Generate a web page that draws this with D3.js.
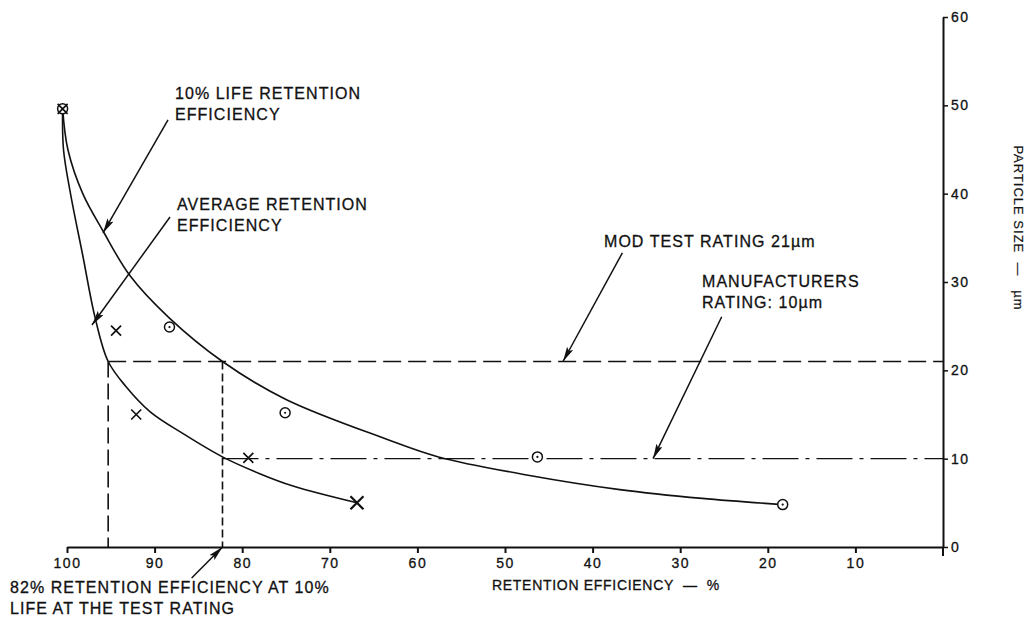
<!DOCTYPE html>
<html><head><meta charset="utf-8">
<script src="https://cdn.jsdelivr.net/npm/d3@7"></script>
<style>
html,body{margin:0;padding:0;background:#fff;}
svg{display:block;}
text{font-family:"Liberation Sans",Arial,sans-serif;fill:#111;}
</style></head><body>
<svg id="chart" width="1028" height="620"></svg>
<script>
// ---------- data ----------
const xTicks = [100, 90, 80, 70, 60, 50, 40, 30, 20, 10];
const yTicks = [0, 10, 20, 30, 40, 50, 60];
// 10% life retention efficiency (circles)
const lifeX = [100.5, 88.3, 75.1, 46.3, 18.3];
const lifeY = [49.6, 24.9, 15.2, 10.2, 4.8];
// average retention efficiency (crosses)
const avgX = [100.5, 94.4, 92.1, 79.3, 66.9];
const avgY = [49.6, 24.5, 15.0, 10.1, 5.0];
// faired curves
const lifeCurveX = [100.5, 99.9, 98.2, 95.9, 92.8, 88.4, 82.25, 75.0, 63.5, 57.6, 47.2, 36.9, 27.5, 18.3];
const lifeCurveY = [49.6, 45.0, 40.0, 35.8, 30.7, 26.0, 21.0, 16.7, 12.2, 10.2, 8.1, 6.5, 5.5, 4.8];
const avgCurveX = [100.5, 100.4, 99.6, 98.2, 96.8, 95.3, 93.3, 90.5, 86.7, 82.25, 78.0, 74.2, 66.9];
const avgCurveY = [49.6, 45.0, 40.0, 33.0, 26.0, 21.0, 18.2, 15.3, 12.8, 10.2, 8.3, 6.9, 5.0];
const testRating = 21, mfrRating = 10;
const avgEffAtTest = 95.3, lifeEffAtTest = 82.25;

// ---------- layout ----------
const svg = d3.select("#chart");
const x = d3.scaleLinear().domain([100, 0]).range([67, 943]);
const y = d3.scaleLinear().domain([0, 60]).range([547, 17]);
const ink = "#111";

const defs = svg.append("defs");
defs.append("marker").attr("id", "ah").attr("markerUnits", "userSpaceOnUse")
  .attr("markerWidth", 16).attr("markerHeight", 8).attr("refX", 15).attr("refY", 3.5)
  .attr("orient", "auto")
  .append("path").attr("d", "M0,0 L15,3.5 L0,7 L3,3.5 Z").attr("fill", ink);

// axes
const xAxis = d3.axisBottom(x).tickValues(xTicks).tickSize(6).tickSizeOuter(0).tickPadding(5);
const gx = svg.append("g").attr("transform", `translate(0,${y(0)})`).call(xAxis);
gx.select(".domain").attr("stroke", ink).attr("stroke-width", 2);
gx.selectAll(".tick line").attr("stroke", ink).attr("stroke-width", 2);
gx.selectAll(".tick text").attr("font-size", 14).attr("letter-spacing", 1.5)
  .attr("font-family", "Liberation Sans, Arial, sans-serif").attr("fill", ink)
  .attr("stroke", ink).attr("stroke-width", 0.3);

const yAxis = d3.axisRight(y).tickValues(yTicks).tickSize(5).tickSizeOuter(0).tickPadding(3);
const gy = svg.append("g").attr("transform", `translate(${x(0)},0)`).call(yAxis);
gy.select(".domain").attr("stroke", ink).attr("stroke-width", 2);
gy.selectAll(".tick line").attr("stroke", ink).attr("stroke-width", 1.5);
gy.selectAll(".tick text").attr("font-size", 14).attr("letter-spacing", 1.5)
  .attr("font-family", "Liberation Sans, Arial, sans-serif").attr("fill", ink)
  .attr("stroke", ink).attr("stroke-width", 0.3);
svg.append("line").attr("x1", x(0)).attr("x2", x(0)).attr("y1", y(0)).attr("y2", y(0) + 9)
  .attr("stroke", ink).attr("stroke-width", 2);

// reference lines
const g = svg.append("g").attr("fill", "none").attr("stroke", ink);
g.append("line").attr("x1", x(avgEffAtTest)).attr("x2", x(0)).attr("y1", y(testRating)).attr("y2", y(testRating))
  .attr("stroke-width", 1.6).attr("stroke-dasharray", "18,7");
g.append("line").attr("x1", x(avgEffAtTest)).attr("x2", x(avgEffAtTest)).attr("y1", y(testRating)).attr("y2", y(0))
  .attr("stroke-width", 1.6).attr("stroke-dasharray", "16,6");
g.append("line").attr("x1", x(lifeEffAtTest)).attr("x2", x(lifeEffAtTest)).attr("y1", y(testRating)).attr("y2", y(0))
  .attr("stroke-width", 1.6).attr("stroke-dasharray", "8,4");
g.append("line").attr("x1", x(lifeEffAtTest)).attr("x2", x(0)).attr("y1", y(mfrRating)).attr("y2", y(mfrRating))
  .attr("stroke-width", 1.4).attr("stroke-dasharray", "36,7,4,7");

// curves
const line = d3.line().x(d => x(d[0])).y(d => y(d[1])).curve(d3.curveCatmullRom.alpha(0.5));
g.append("path").attr("d", line(d3.zip(lifeCurveX, lifeCurveY))).attr("stroke-width", 1.6);
g.append("path").attr("d", line(d3.zip(avgCurveX, avgCurveY))).attr("stroke-width", 1.6);

// markers
const mk = svg.append("g");
d3.zip(lifeX, lifeY).forEach(([a, b]) => {
  mk.append("circle").attr("cx", x(a)).attr("cy", y(b)).attr("r", 5)
    .attr("fill", "#fff").attr("stroke", ink).attr("stroke-width", 1.5);
  mk.append("circle").attr("cx", x(a)).attr("cy", y(b)).attr("r", 1.1).attr("fill", ink);
});
d3.zip(avgX, avgY).forEach(([a, b], i) => {
  const last = i === avgX.length - 1;
  const s = last ? 6.5 : 5, w = last ? 2.2 : 1.7;
  const cx = x(a), cy = y(b);
  mk.append("path").attr("d", `M${cx - s},${cy - s}L${cx + s},${cy + s}M${cx - s},${cy + s}L${cx + s},${cy - s}`)
    .attr("stroke", ink).attr("stroke-width", w).attr("fill", "none");
});

// annotations (arrows in data space)
const arrows = [
  [[88.47, 48.34], [95.89, 35.55]],
  [[88.24, 37.36], [97.15, 25.13]],
  [[36.6, 33.3], [43.38, testRating]],
  [[25.26, 26.07], [33.1, mfrRating]],
  [[85.77, -3.51], [lifeEffAtTest, 0]]
];
arrows.forEach(([t, h]) => {
  svg.append("line").attr("x1", x(t[0])).attr("y1", y(t[1])).attr("x2", x(h[0])).attr("y2", y(h[1]))
    .attr("stroke", ink).attr("stroke-width", 1.5).attr("marker-end", "url(#ah)");
});

const labels = [
  ["10% LIFE RETENTION", 175, 99], ["EFFICIENCY", 175, 120],
  ["AVERAGE RETENTION", 177, 210], ["EFFICIENCY", 177, 231],
  ["MOD TEST RATING 21µm", 604, 247],
  ["MANUFACTURERS", 702, 287], ["RATING: 10µm", 702, 308],
  ["82% RETENTION EFFICIENCY AT 10%", 10, 593], ["LIFE AT THE TEST RATING", 10, 614]
];
labels.forEach(([t, a, b]) => {
  svg.append("text").attr("x", a).attr("y", b).attr("font-size", 16).attr("letter-spacing", 1.05)
    .attr("stroke", ink).attr("stroke-width", 0.3).text(t);
});
svg.append("text").attr("x", 492).attr("y", 590).attr("font-size", 14).attr("letter-spacing", 0.7)
  .attr("stroke", ink).attr("stroke-width", 0.3)
  .style("white-space", "pre").text("RETENTION EFFICIENCY  —  %");
svg.append("text").attr("transform", "translate(1014,228) rotate(90)").attr("text-anchor", "middle")
  .attr("font-size", 13).attr("letter-spacing", 1).attr("stroke", ink).attr("stroke-width", 0.2)
  .style("white-space", "pre").text("PARTICLE SIZE  —   µm");
</script>
</body></html>
